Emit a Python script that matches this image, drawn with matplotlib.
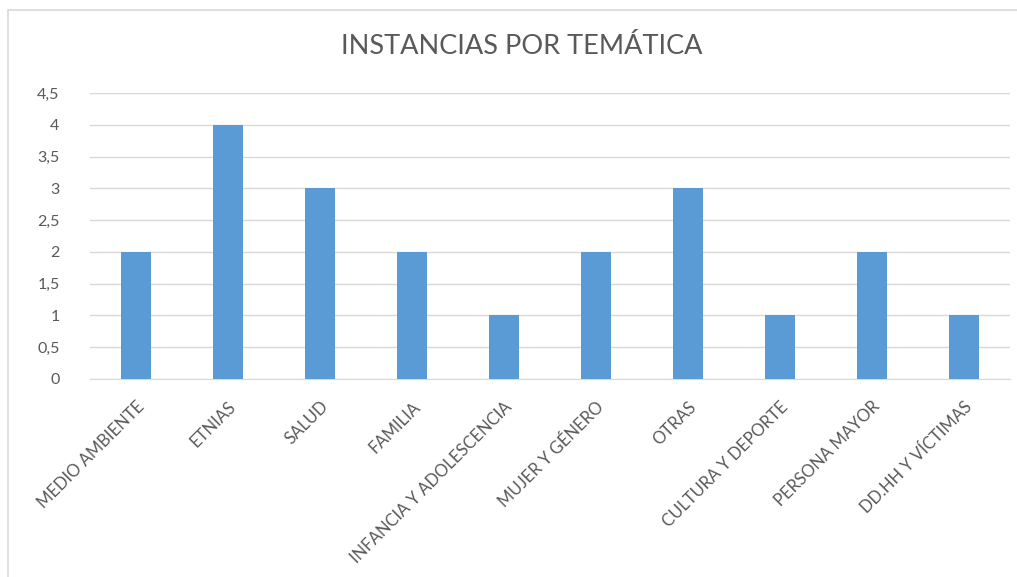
import matplotlib.pyplot as plt
from matplotlib.patches import Rectangle
from matplotlib.ticker import FuncFormatter

# datos
categorias = ["MEDIO AMBIENTE", "ETNIAS", "SALUD", "FAMILIA", "INFANCIA Y ADOLESCENCIA",
              "MUJER Y GÉNERO", "OTRAS", "CULTURA Y DEPORTE", "PERSONA MAYOR", "DD.HH Y VÍCTIMAS"]
valores = [2, 4, 3, 2, 1, 2, 3, 1, 2, 1]
y_ticks = [0, 0.5, 1, 1.5, 2, 2.5, 3, 3.5, 4, 4.5]

plt.rcParams['font.family'] = ['Lato', 'DejaVu Sans']
gris = '#595959'

fig = plt.figure(figsize=(10.17, 5.77), dpi=100)
ax = fig.add_axes([90/1017, 1-379/577, 920/1017, 286/577])

# borde del grafico
fig.patches.append(Rectangle((8/1017, -0.01), 1.0, 1-10/577+0.01, transform=fig.transFigure,
                             fill=False, edgecolor='#D9D9D9', linewidth=1.2))

x = range(len(categorias))
ax.bar(x, valores, width=0.32, color='#5B9BD5', zorder=3)

ax.set_xlim(-0.5, len(categorias) - 0.5)
ax.set_ylim(0, 4.5)
ax.set_yticks(y_ticks)
ax.yaxis.set_major_formatter(FuncFormatter(lambda v, p: ('%g' % v).replace('.', ',')))
ax.grid(axis='y', color='#D9D9D9', linewidth=1, zorder=0)
for s in ['top', 'right', 'left']:
    ax.spines[s].set_visible(False)
ax.spines['bottom'].set_color('#D9D9D9')

ax.set_xticks(list(x))
ax.set_xticklabels(categorias, rotation=45, ha='right', rotation_mode='anchor',
                   fontsize=12, color=gris)
ax.tick_params(axis='x', length=0, pad=14)
ax.tick_params(axis='y', length=0, pad=22, labelsize=11.5, labelcolor=gris)
for lbl in ax.get_yticklabels():
    lbl.set_horizontalalignment('right')

fig.text(522/1017, 1-47/577, "INSTANCIAS POR TEMÁTICA", ha='center', va='center',
         fontsize=19.5, color=gris)

fig.savefig("out.png", dpi=100)
